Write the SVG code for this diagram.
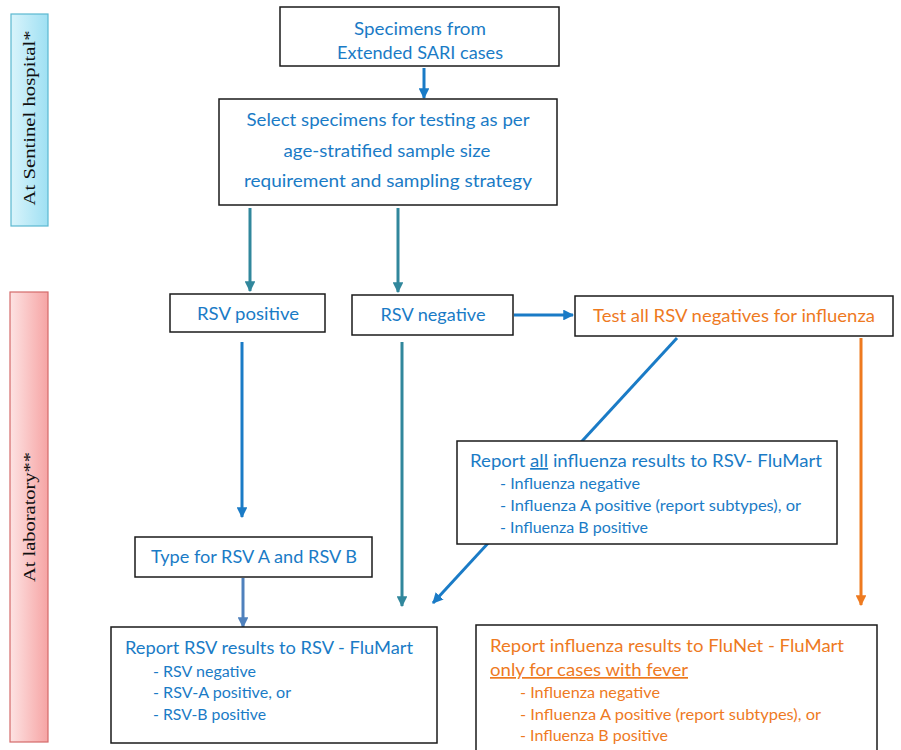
<svg xmlns="http://www.w3.org/2000/svg" width="901" height="750" viewBox="0 0 901 750">
<style>
.box{fill:#fff;stroke:#1a1a1a;stroke-width:1.5}
.t{font-family:Lato,"Open Sans","Liberation Sans",sans-serif;font-size:17px;fill:#1a7bc6}
.s{font-family:Lato,"Open Sans","Liberation Sans",sans-serif;font-size:14.5px;fill:#1a7bc6}
.o{fill:#ee7a1f}
.side{font-family:"Liberation Serif","DejaVu Serif",serif;font-size:17px;fill:#111}
.c{text-anchor:middle}
</style>
<defs>
<linearGradient id="gb" x1="0" y1="0" x2="1" y2="0"><stop offset="0" stop-color="#d9f4fb"/><stop offset="1" stop-color="#9fe0f3"/></linearGradient>
<linearGradient id="gp" x1="0" y1="0" x2="1" y2="0"><stop offset="0" stop-color="#fde3e3"/><stop offset="1" stop-color="#f6a4a4"/></linearGradient>
<marker id="mb" viewBox="0 0 10 10" refX="9" refY="5" markerWidth="3.6" markerHeight="3.6" orient="auto"><path d="M0,0L10,5L0,10z" fill="#1a7bc6"/></marker>
<marker id="mt" viewBox="0 0 10 10" refX="9" refY="5" markerWidth="3.6" markerHeight="3.6" orient="auto"><path d="M0,0L10,5L0,10z" fill="#31879c"/></marker>
<marker id="ms" viewBox="0 0 10 10" refX="9" refY="5" markerWidth="3.6" markerHeight="3.6" orient="auto"><path d="M0,0L10,5L0,10z" fill="#4f81bd"/></marker>
<marker id="mo" viewBox="0 0 10 10" refX="9" refY="5" markerWidth="3.6" markerHeight="3.6" orient="auto"><path d="M0,0L10,5L0,10z" fill="#ee7a1f"/></marker>
</defs>

<g id="lane-hospital">
<rect x="11" y="14" width="37" height="212" fill="url(#gb)" stroke="#5bb8d0" stroke-width="1.2"/>
<text class="side c" transform="translate(35,118) rotate(-90)" textLength="175" lengthAdjust="spacingAndGlyphs">At Sentinel hospital*</text>
</g>
<g id="lane-lab">
<rect x="10" y="292" width="38" height="450" fill="url(#gp)" stroke="#d46a6a" stroke-width="1.2"/>
<text class="side c" transform="translate(35,517) rotate(-90)" textLength="130" lengthAdjust="spacingAndGlyphs">At laboratory**</text>
</g>

<g id="connectors" fill="none">
<line x1="424" y1="68" x2="424" y2="98" stroke="#1a7bc6" stroke-width="3" marker-end="url(#mb)"/>
<line x1="250" y1="208" x2="250" y2="291" stroke="#31879c" stroke-width="3" marker-end="url(#mt)"/>
<line x1="398" y1="208" x2="398" y2="292" stroke="#31879c" stroke-width="3" marker-end="url(#mt)"/>
<line x1="514" y1="315" x2="573" y2="315" stroke="#1a7bc6" stroke-width="3" marker-end="url(#mb)"/>
<line x1="242" y1="342" x2="242" y2="517" stroke="#1a7bc6" stroke-width="3" marker-end="url(#mb)"/>
<line x1="243" y1="578" x2="243" y2="627" stroke="#4f81bd" stroke-width="3" marker-end="url(#ms)"/>
<line x1="402" y1="342" x2="402" y2="606" stroke="#31879c" stroke-width="3" marker-end="url(#mt)"/>
<line x1="677" y1="338" x2="433" y2="603" stroke="#1a7bc6" stroke-width="3" marker-end="url(#mb)"/>
<line x1="861" y1="338" x2="861" y2="605" stroke="#ee7a1f" stroke-width="3" marker-end="url(#mo)"/>
</g>

<g id="specimens">
<rect class="box" x="280" y="7" width="279" height="59"/>
<text class="t c" x="420" y="35" textLength="132" lengthAdjust="spacingAndGlyphs">Specimens from</text>
<text class="t c" x="420" y="59" textLength="166" lengthAdjust="spacingAndGlyphs">Extended SARI cases</text>
</g>
<g id="select">
<rect class="box" x="219" y="99" width="338" height="106"/>
<text class="t c" x="388" y="126" textLength="283" lengthAdjust="spacingAndGlyphs">Select specimens for testing as per</text>
<text class="t c" x="387" y="157" textLength="207" lengthAdjust="spacingAndGlyphs">age-stratified sample size</text>
<text class="t c" x="388" y="187" textLength="288" lengthAdjust="spacingAndGlyphs">requirement and sampling strategy</text>
</g>
<g id="rsv-positive">
<rect class="box" x="170" y="294" width="155" height="38"/>
<text class="t c" x="248" y="320" textLength="102" lengthAdjust="spacingAndGlyphs">RSV positive</text>
</g>
<g id="rsv-negative">
<rect class="box" x="352" y="295" width="161" height="40"/>
<text class="t c" x="433" y="321" textLength="105" lengthAdjust="spacingAndGlyphs">RSV negative</text>
</g>
<g id="test-influenza">
<rect class="box" x="575" y="296" width="318" height="40"/>
<text class="t o c" x="734" y="322" textLength="282" lengthAdjust="spacingAndGlyphs">Test all RSV negatives for influenza</text>
</g>
<g id="type-rsv">
<rect class="box" x="135" y="537" width="237" height="40"/>
<text class="t c" x="254" y="563" textLength="206" lengthAdjust="spacingAndGlyphs">Type for RSV A and RSV B</text>
</g>
<g id="report-all">
<rect class="box" x="457" y="441" width="380" height="103"/>
<text class="t" x="470" y="467" textLength="352" lengthAdjust="spacingAndGlyphs">Report <tspan text-decoration="underline">all</tspan> influenza results to RSV- FluMart</text>
<text class="s" x="500" y="489" textLength="140" lengthAdjust="spacingAndGlyphs">- Influenza negative</text>
<text class="s" x="500" y="511" textLength="301" lengthAdjust="spacingAndGlyphs">- Influenza A positive (report subtypes), or</text>
<text class="s" x="500" y="533" textLength="148" lengthAdjust="spacingAndGlyphs">- Influenza B positive</text>
</g>
<g id="report-rsv">
<rect class="box" x="111" y="627" width="326" height="116"/>
<text class="t" x="125" y="654" textLength="288" lengthAdjust="spacingAndGlyphs">Report RSV results to RSV - FluMart</text>
<text class="s" x="153" y="677" textLength="103" lengthAdjust="spacingAndGlyphs">- RSV negative</text>
<text class="s" x="153" y="698" textLength="138" lengthAdjust="spacingAndGlyphs">- RSV-A positive, or</text>
<text class="s" x="153" y="720" textLength="113" lengthAdjust="spacingAndGlyphs">- RSV-B positive</text>
</g>
<g id="report-flunet">
<rect class="box" x="476" y="625" width="401" height="130"/>
<text class="t o" x="490" y="652" textLength="354" lengthAdjust="spacingAndGlyphs">Report influenza results to FluNet - FluMart</text>
<text class="t o" x="490" y="676" textLength="198" lengthAdjust="spacingAndGlyphs" text-decoration="underline">only for cases with fever</text>
<text class="s o" x="520" y="698" textLength="140" lengthAdjust="spacingAndGlyphs">- Influenza negative</text>
<text class="s o" x="520" y="720" textLength="301" lengthAdjust="spacingAndGlyphs">- Influenza A positive (report subtypes), or</text>
<text class="s o" x="520" y="741" textLength="148" lengthAdjust="spacingAndGlyphs">- Influenza B positive</text>
</g>
</svg>
